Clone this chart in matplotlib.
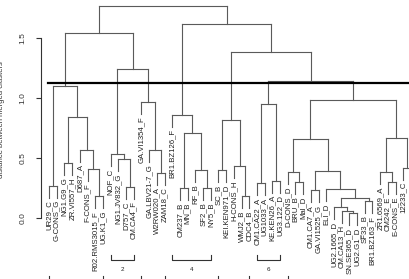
import matplotlib
matplotlib.use("Agg")
import matplotlib.pyplot as plt

plt.rcParams['font.family'] = ['Liberation Sans', 'DejaVu Sans']

# Hojas del dendrograma en el orden en que se dibujan
hojas = ["UR29_C", "G-CONS_G", "NG1.G9_G", "ZR.VI557_H", "D687_A", "F-CONS_F",
         "R02.RMS3015_F", "UG.K1_G", "NOF_C", "NG1.JV832_G", "D757_C", "CM.CA4_F",
         "GA.VI1354_F", "GA.LBV21-7_G", "W2RW020_A", "ZAM18_C", "BR1.BZ126_F",
         "CM237_B", "MN_B", "RF_B", "SF2_B", "NY5_B", "SC_B", "KEI.KEN971_D",
         "H-CONS_H", "WMJ2_B", "CDC4_B", "CM1.CA22_A", "UG1033_A", "KE.KEN26_A",
         "UG3.122_D", "D-CONS_D", "BRU_B", "Mal_D", "CM1.CA7_A", "GA.VI1525_G",
         "ELI_D", "UG2.1665_D", "CM.CA13_H", "SN.SE365_D", "UG2.G1_D", "SF33_B",
         "BR1.BZ163_F", "ZR1.6569_A", "CM242_E", "E-CONS_E", "12233_C", ""]

# Fusiones como en hclust de R: negativo = hoja, positivo = fila de fusion
fusion_izq = [-7, -6, -5, -3, 4, -1, 6, -11, -10, -9, -15, -14, -13, 10, 7,
              -18, -21, -20, 16, -17, -23, -26, -25, 21, -28, -30, 25, -33, -32,
              -35, -40, -39, -38, -42, 33, -37, 30, 29, -45, -44, -47, 40, 38,
              27, 24, 20, 15]
fusion_der = [-8, 1, 2, -4, 3, -2, 5, -12, 8, 9, -16, 11, 12, 13, 14,
              -19, -22, 17, 18, 19, -24, -27, 22, 23, -29, -31, 26, -34, 28,
              -36, -41, 31, 32, -43, 34, 35, 36, 37, -46, 39, -48, 41, 42,
              43, 44, 45, 46]
alturas = [0.18, 0.41, 0.57, 0.46, 0.84, 0.27, 1.10, 0.26, 0.49, 0.53, 0.375, 0.57,
           0.97, 1.24, 1.54, 0.25, 0.25, 0.40, 0.71, 0.86, 0.40, 0.18, 0.43, 0.82,
           0.29, 0.31, 0.95, 0.30, 0.38, 0.23, 0.04, 0.06, 0.09, 0.14, 0.17, 0.24,
           0.39, 0.66, 0.30, 0.38, 0.42, 0.67, 0.98, 1.14, 1.38, 1.62, 1.77]

corte = 1.125
colgar = 0.10

# Grupos del corte (hojas de inicio y fin, 1-based)
grupo_inicio = [1, 9, 13, 17, 23, 28, 32]
grupo_fin = [8, 12, 16, 22, 27, 31, 48]
grupo_nombre = ["1", "2", "3", "4", "5", "6", "7"]

ticks_y = [0.0, 0.5, 1.0, 1.5]

# Posicion x de cada fusion
x_fusion = []
def pos_x(n):
    if n < 0:
        return -n - 1
    return x_fusion[n - 1]

for i in range(len(alturas)):
    x_fusion.append((pos_x(fusion_izq[i]) + pos_x(fusion_der[i])) / 2)

fig = plt.figure(figsize=(4.1, 2.79), dpi=100)
ax = fig.add_axes([0, 0, 1, 1])
ax.set_xlim(-49 / 7.7, (410 - 49) / 7.7)
ax.set_ylim(-61 / 120, 218 / 120)

color = "#5a5a5a"
for i in range(len(alturas)):
    h = alturas[i]
    xs = []
    for n in (fusion_izq[i], fusion_der[i]):
        x = pos_x(n)
        if n < 0:
            base = h - colgar
            ax.text(x, base - 0.02, hojas[-n - 1], rotation=90, ha="center",
                    va="top", fontsize=5.6, color="#222222")
        else:
            base = alturas[n - 1]
        ax.plot([x, x], [base, h], color=color, lw=0.8)
        xs.append(x)
    ax.plot(xs, [h, h], color=color, lw=0.8)

# Linea de corte
ax.plot([-1 / 7.7, 47], [corte, corte], color="black", lw=1.6)

# Corchetes de los grupos
for g in range(len(grupo_inicio)):
    x0 = grupo_inicio[g] - 1
    x1 = grupo_fin[g] - 1
    if g % 2 == 1:
        yb, yt = -0.35, -0.31
        ax.text((x0 + x1) / 2, -0.43, grupo_nombre[g], ha="center", va="center",
                fontsize=4.5, color="#222222")
    else:
        yb, yt = -0.54, -0.48
    ax.plot([x0, x0, x1, x1], [yt, yb, yb, yt], color="#333333", lw=0.8)

# Eje y
for s in ["top", "right", "bottom"]:
    ax.spines[s].set_visible(False)
ax.spines["left"].set_position(("data", -8 / 7.7))
ax.spines["left"].set_bounds(0, 1.5)
ax.spines["left"].set_color("#333333")
ax.set_xticks([])
ax.set_yticks(ticks_y)
ax.set_yticklabels(["%.1f" % t for t in ticks_y], rotation=90, va="center")
ax.tick_params(axis="y", length=3.6, width=0.8, labelsize=6, pad=7, colors="#333333")
ax.text(0.004, 0.57, "distance between merged clusters", rotation=90,
        transform=ax.transAxes, ha="center", va="center", fontsize=5.5, color="#333333")

fig.savefig("out.png", dpi=100)
